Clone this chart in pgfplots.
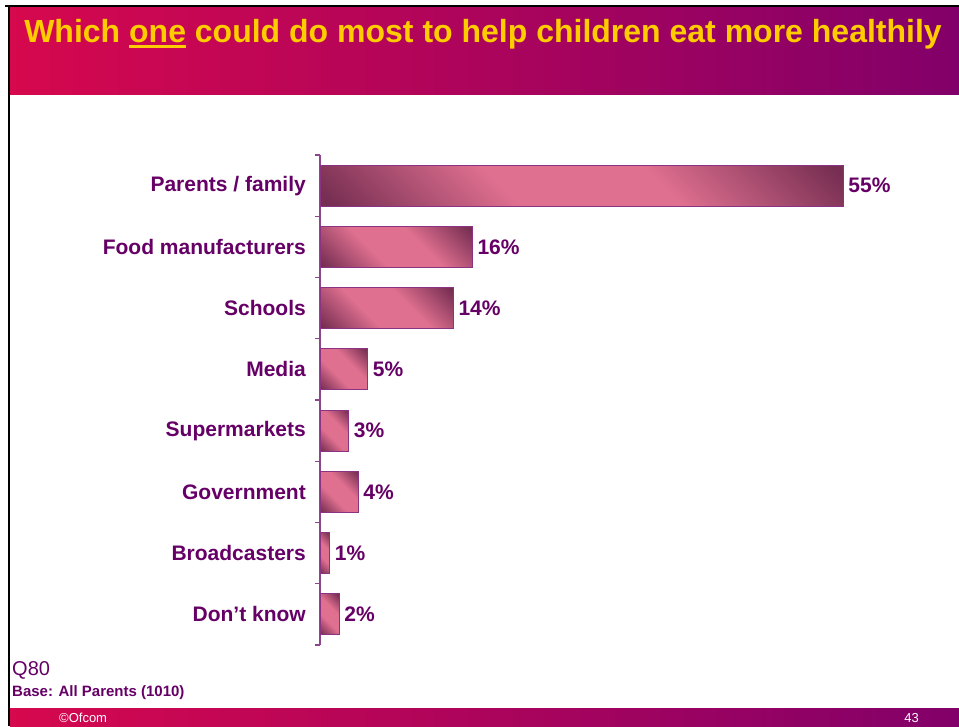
\documentclass[border=0pt]{standalone}
\usepackage{fontspec}
\setmainfont{Liberation Sans}
\usepackage{pgfplots}
\pgfplotsset{compat=1.18}
\definecolor{ofpurple}{RGB}{102,0,102}
\definecolor{ofyellow}{RGB}{255,204,0}
\definecolor{hdrL}{RGB}{214,8,78}
\definecolor{hdrM}{RGB}{195,10,92}
\definecolor{hdrR}{RGB}{130,0,105}
\definecolor{barpink}{RGB}{224,112,144}
\definecolor{bardark}{RGB}{118,46,82}
\definecolor{barborder}{RGB}{140,50,130}
\definecolor{axispurple}{RGB}{140,70,140}
\pgfdeclareverticalshading{barshade}{100bp}{color(0bp)=(bardark); color(16bp)=(bardark); color(40bp)=(barpink); color(60bp)=(barpink); color(84bp)=(bardark); color(100bp)=(bardark)}
\newcommand\ulyellow[1]{\setbox0\hbox{#1}\rlap{\rule[-5pt]{\wd0}{3pt}}\box0\relax}
\begin{document}
\begin{tikzpicture}[x=1pt,y=1pt]
\useasboundingbox (0,0) rectangle (959,726);
\fill[white] (0,0) rectangle (959,726);
% header band
\shade[left color=hdrL, middle color=hdrM, right color=hdrR] (10,631) rectangle (959,719);
% footer band
\shade[left color=hdrL, middle color=hdrM, right color=hdrR] (10,0) rectangle (959,18);
% frame lines
\fill[black] (5,719) rectangle (959,721);
\fill[black] (8,0) rectangle (10,721);
% title
\node[anchor=base, inner sep=0pt, text=ofyellow, font=\fontsize{32}{38}\selectfont\bfseries] at (483,683)
  {Which \ulyellow{one} could do most to help children eat more healthily};
% footer texts
\node[anchor=base west, inner sep=0pt, text=ofpurple, font=\fontsize{20}{24}\selectfont] at (12,50) {Q80};
\node[anchor=base west, inner sep=0pt, text=ofpurple, font=\fontsize{15}{18}\selectfont\bfseries] at (12,30) {Base: All Parents (1010)};
\node[anchor=base west, inner sep=0pt, text=white, font=\fontsize{13}{15}\selectfont] at (59,4) {\textcopyright Ofcom};
\node[anchor=base east, inner sep=0pt, text=white, font=\fontsize{13}{15}\selectfont] at (919,4) {43};
\begin{axis}[
  at={(320pt,81pt)}, anchor=south west,
  scale only axis, width=523pt, height=490pt,
  xbar, bar width=41pt, bar shift=0pt,
  xmin=0, xmax=55, ymin=-0.5, ymax=7.5,
  y dir=reverse,
  axis x line=none, axis y line*=left,
  y axis line style={draw=axispurple, line width=1.2pt},
  ytick={0,...,7},
  yticklabels={Parents / family, Food manufacturers, Schools, Media, Supermarkets, Government, Broadcasters, Don't know},
  major tick length=0pt,
  minor ytick={-0.5,0.5,...,7.5},
  minor tick length=5pt,
  tick align=outside,
  every tick/.style={draw=axispurple, line width=1.2pt},
  yticklabel style={font=\fontsize{21}{25}\selectfont\bfseries, text=ofpurple, inner sep=0pt, xshift=-14pt},
  /pgf/number format/assume math mode=true,
  nodes near coords={\pgfmathprintnumber{\pgfplotspointmeta}\%},
  nodes near coords style={font=\fontsize{21}{25}\selectfont\bfseries, text=ofpurple, inner sep=0pt, anchor=west, xshift=5pt},
  clip=false,
  every axis plot post/.append style={draw=barborder, line width=0.8pt, shading=barshade, shading angle=-45},
]
\addplot coordinates {(55,0)};
\addplot coordinates {(16,1)};
\addplot coordinates {(14,2)};
\addplot coordinates {(5,3)};
\addplot coordinates {(3,4)};
\addplot coordinates {(4,5)};
\addplot coordinates {(1,6)};
\addplot coordinates {(2,7)};
\end{axis}
\end{tikzpicture}
\end{document}
